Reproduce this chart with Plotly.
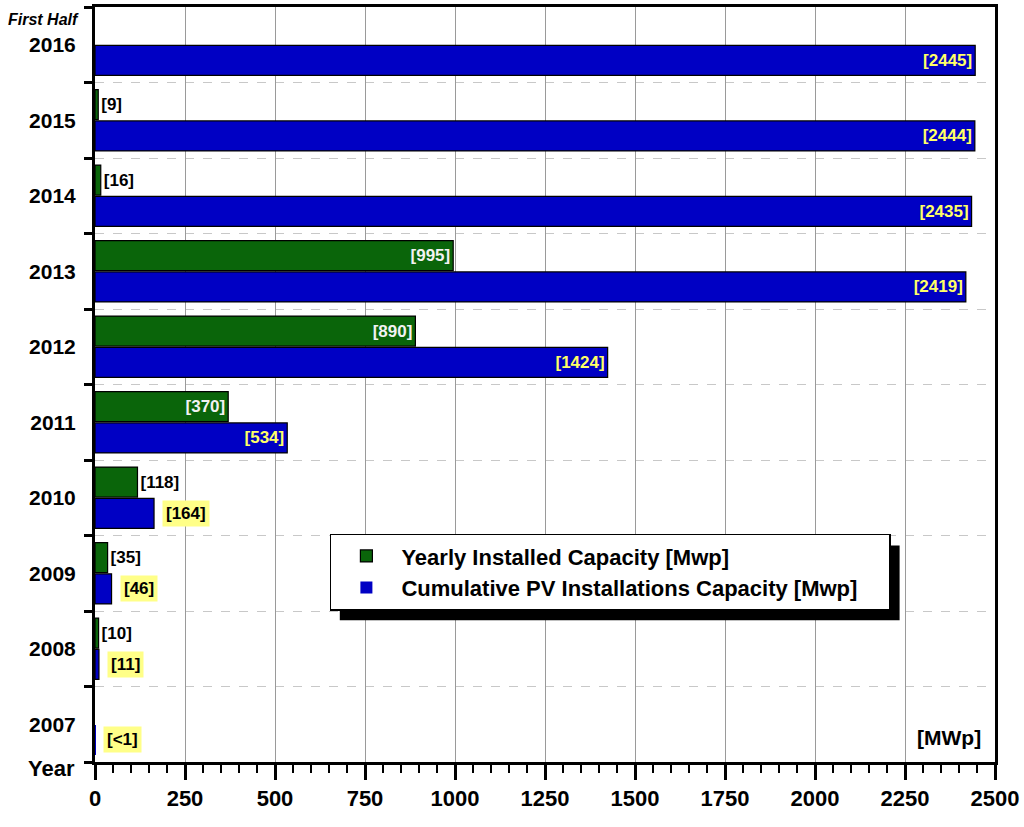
import plotly.graph_objects as go

years = [2007, 2008, 2009, 2010, 2011, 2012, 2013, 2014, 2015, 2016]
year_labels = ["2007", "2008", "2009", "2010", "2011", "2012", "2013", "2014", "2015", "2016"]
yearly = [None, 10, 35, 118, 370, 890, 995, 16, 9, None]
yearly_text = ["", "[10]", "[35]", "[118]", "[370]", "[890]", "[995]", "[16]", "[9]", ""]
cumulative = [0.5, 11, 46, 164, 534, 1424, 2419, 2435, 2444, 2445]
cumulative_text = ["[<1]", "[11]", "[46]", "[164]", "[534]", "[1424]", "[2419]", "[2435]", "[2444]", "[2445]"]
x_ticks = [0, 250, 500, 750, 1000, 1250, 1500, 1750, 2000, 2250, 2500]

GREEN = "#0a650a"
BLUE = "#0000c4"
FONT = "Liberation Sans, Arial, sans-serif"
BARGAP = 0.17
GROUPGAP = 0.04
INSIDE_MIN = 300  # bars longer than this get their label inside
LBL = 17

fig = go.Figure()

cum_pos = ["inside" if v >= INSIDE_MIN else "none" for v in cumulative]
fig.add_trace(go.Bar(
    y=years, x=cumulative, orientation="h",
    name="Cumulative PV Installations Capacity [Mwp]",
    marker=dict(color=BLUE, line=dict(color="black", width=[0 if v < 1 else 1.2 for v in cumulative])),
    text=[t if v >= INSIDE_MIN else "" for t, v in zip(cumulative_text, cumulative)],
    textposition=cum_pos, insidetextanchor="end",
    textfont=dict(family=FONT, size=LBL, color="#ffff66", weight="bold"),
    cliponaxis=False, legendrank=2, hoverinfo="x+y",
))

yr_pos = [("inside" if (v or 0) >= INSIDE_MIN else "outside") for v in yearly]
yr_col = [("#f2f2f2" if (v or 0) >= INSIDE_MIN else "black") for v in yearly]
fig.add_trace(go.Bar(
    y=years, x=yearly, orientation="h",
    name="Yearly Installed Capacity [Mwp]",
    marker=dict(color=GREEN, line=dict(color="black", width=1.2)),
    text=yearly_text, textposition=yr_pos, insidetextanchor="end",
    textfont=dict(family=FONT, size=LBL, color=yr_col, weight="bold"),
    outsidetextfont=dict(family=FONT, size=LBL, color="black", weight="bold"),
    cliponaxis=False, legendrank=1, hoverinfo="x+y",
))

slot_offset = (1 - BARGAP) / 4
annotations = []
for y, v, t in zip(years, cumulative, cumulative_text):
    if v < INSIDE_MIN:
        annotations.append(dict(
            x=v, y=y - slot_offset, xref="x", yref="y", text=t, showarrow=False,
            xanchor="left", xshift=8, bgcolor="#ffff88",
            font=dict(family=FONT, size=LBL, color="black", weight="bold"),
            borderpad=3,
        ))

annotations += [
    dict(x=-0.016, y=2016.5, xref="paper", yref="y", text="First Half", showarrow=False,
         xanchor="right", yanchor="top", yshift=-2,
         font=dict(family=FONT, size=16, color="black", weight="bold", style="italic")),
    dict(x=-0.02, y=-0.008, xref="paper", yref="paper", text="Year", showarrow=False,
         xanchor="right", yanchor="middle",
         font=dict(family=FONT, size=22, color="black", weight="bold")),
    dict(x=0.987, y=0.033, xref="paper", yref="paper", text="[MWp]", showarrow=False,
         xanchor="right", yanchor="middle",
         font=dict(family=FONT, size=21, color="black", weight="bold")),
]

shapes = [
    dict(type="rect", xref="paper", yref="paper", x0=0.272, x1=0.894, y0=0.1876, y1=0.2867,
         fillcolor="black", line=dict(width=0), layer="above"),
]

fig.update_layout(
    width=1024, height=827,
    margin=dict(l=95, r=29, t=4, b=65),
    paper_bgcolor="white", plot_bgcolor="white",
    barmode="group", bargap=BARGAP, bargroupgap=GROUPGAP,
    font=dict(family=FONT, color="black"),
    showlegend=True,
    legend=dict(
        orientation="h",
        x=0.261, y=0.3025, xanchor="left", yanchor="top",
        bgcolor="white", bordercolor="black", borderwidth=1.5,
        font=dict(family=FONT, size=22, color="black", weight="bold"),
        tracegroupgap=0, itemwidth=60, entrywidth=483, entrywidthmode="pixels",
    ),
    annotations=annotations,
    shapes=shapes,
)

fig.update_xaxes(
    range=[0, 2500], tickvals=x_ticks, ticktext=[str(v) for v in x_ticks],
    showgrid=True, gridcolor="#9a9a9a", gridwidth=1,
    showline=True, linecolor="black", linewidth=3, mirror=True,
    ticks="outside", ticklen=15, tickwidth=3, tickcolor="black",
    minor=dict(dtick=50, tick0=0, ticks="outside", ticklen=8, tickwidth=2, tickcolor="black", showgrid=False),
    tickfont=dict(family=FONT, size=22, color="black", weight="bold"),
    zeroline=False,
)
fig.update_yaxes(
    range=[2006.5, 2016.5], tickvals=years, ticktext=year_labels,
    showgrid=False,
    showline=True, linecolor="black", linewidth=3, mirror=True,
    ticks="outside", ticklen=0, ticklabelstandoff=12,
    minor=dict(dtick=1, tick0=2006.5, ticks="outside", ticklen=8, tickwidth=3, tickcolor="black",
               showgrid=True, gridcolor="#c8c8c8", griddash="dash", gridwidth=1),
    tickfont=dict(family=FONT, size=21, color="black", weight="bold"),
    zeroline=False,
)

fig.write_html("out.html")
